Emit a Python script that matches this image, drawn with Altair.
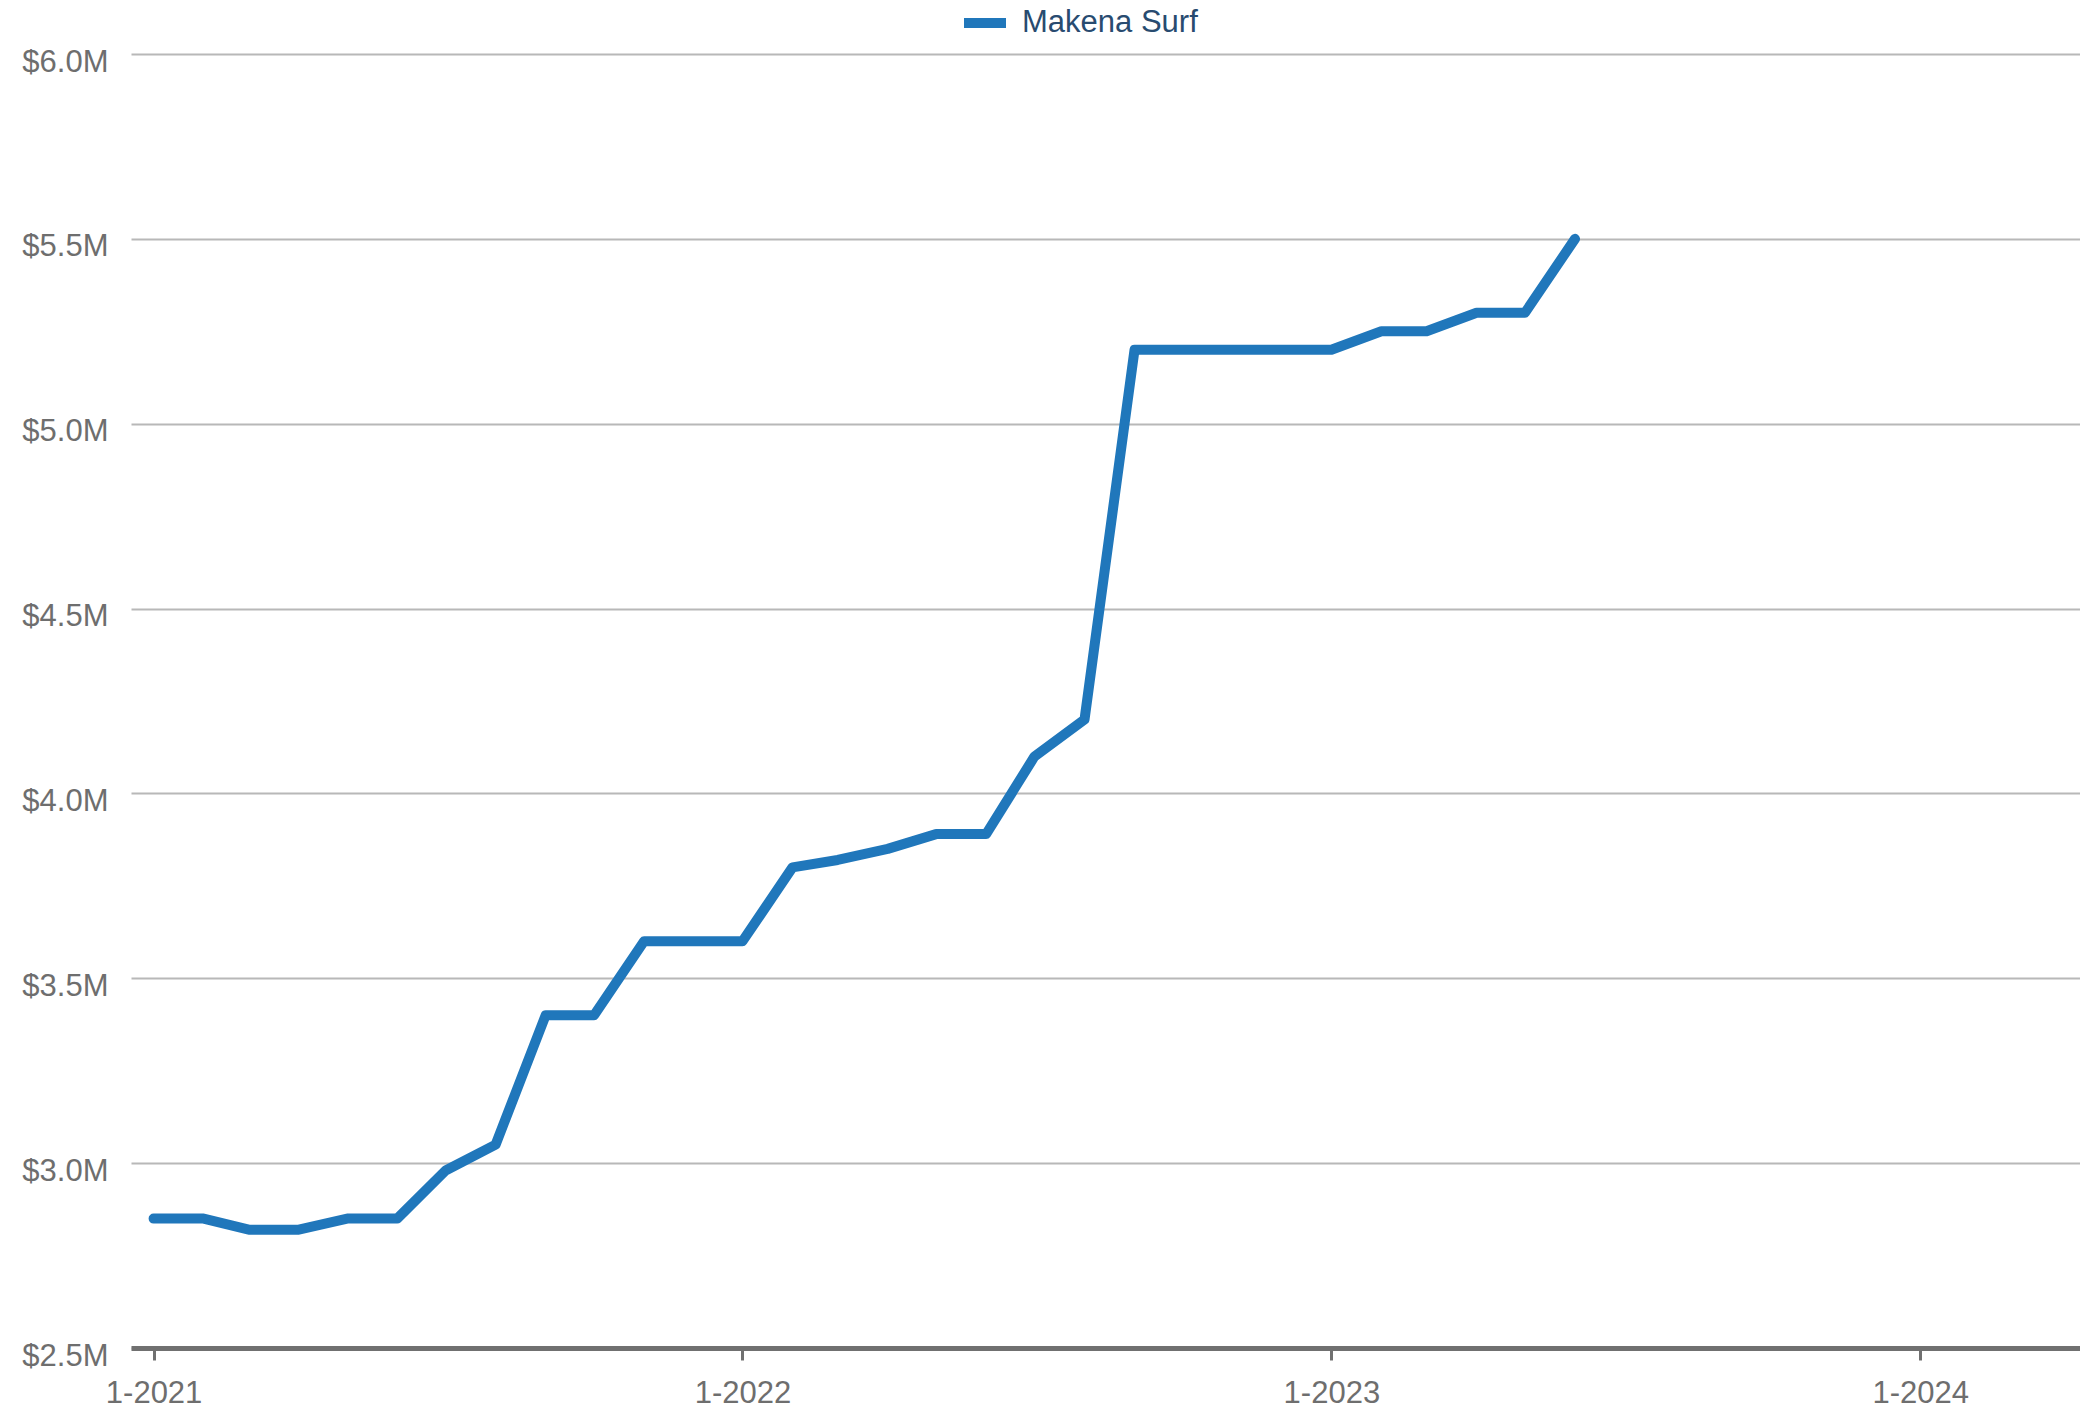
import altair as alt
import pandas as pd

months = [
    "2021-01-01", "2021-02-01", "2021-03-01", "2021-04-01", "2021-05-01", "2021-06-01",
    "2021-07-01", "2021-08-01", "2021-09-01", "2021-10-01", "2021-11-01", "2021-12-01",
    "2022-01-01", "2022-02-01", "2022-03-01", "2022-04-01", "2022-05-01", "2022-06-01",
    "2022-07-01", "2022-08-01", "2022-09-01", "2022-10-01", "2022-11-01", "2022-12-01",
    "2023-01-01", "2023-02-01", "2023-03-01", "2023-04-01", "2023-05-01", "2023-06-01",
]
values = [
    2.85, 2.85, 2.82, 2.82, 2.85, 2.85,
    2.98, 3.05, 3.40, 3.40, 3.60, 3.60,
    3.60, 3.80, 3.82, 3.85, 3.89, 3.89,
    4.10, 4.20, 5.20, 5.20, 5.20, 5.20,
    5.20, 5.25, 5.25, 5.30, 5.30, 5.50,
]
series_name = "Makena Surf"
x_ticks = ["2021-01-01", "2022-01-01", "2023-01-01", "2024-01-01"]
y_ticks = [2.5e6, 3.0e6, 3.5e6, 4.0e6, 4.5e6, 5.0e6, 5.5e6, 6.0e6]

df = pd.DataFrame({
    "date": months,
    "price": [v * 1e6 for v in values],
    "series": [series_name] * len(months),
})

FONT = "Liberation Sans"
GRAY = "#6e6e6e"

chart = alt.Chart(df).mark_line(
    strokeWidth=10, strokeCap="round", strokeJoin="round", clip=True
).encode(
    x=alt.X(
        "date:T",
        scale=alt.Scale(domain=[
            alt.DateTime(year=2020, month=12, date=18, utc=True),
            alt.DateTime(year=2024, month=4, date=9, utc=True),
        ]),
        axis=alt.Axis(
            values=x_ticks,
            labelExpr="utcFormat(datum.value, '%-m-%Y')",
            title=None,
            grid=False,
            domainColor="#707070",
            domainWidth=5,
            tickColor="#707070",
            tickWidth=3,
            tickSize=12,
            labelPadding=18,
            labelFont=FONT,
            labelFontSize=31,
            labelColor=GRAY,
        ),
    ),
    y=alt.Y(
        "price:Q",
        scale=alt.Scale(domain=[2.5e6, 6.0e6], nice=False, zero=False),
        axis=alt.Axis(
            values=y_ticks,
            labelExpr="'$' + format(datum.value / 1000000, '.1f') + 'M'",
            title=None,
            domain=False,
            ticks=False,
            tickSize=0,
            labelPadding=23,
            labelOffset=8,
            gridColor="#b8b8b8",
            gridWidth=2,
            labelFont=FONT,
            labelFontSize=31,
            labelColor=GRAY,
        ),
    ),
    color=alt.Color(
        "series:N",
        scale=alt.Scale(range=["#2077bb"]),
        legend=alt.Legend(
            title=None,
            orient="none",
            legendX=828,
            legendY=-57,
            symbolType="stroke",
            symbolSize=1764,
            symbolStrokeWidth=10,
            labelOffset=11,
            labelLimit=600,
            labelFont=FONT,
            labelFontSize=31,
            labelColor="#284b70",
        ),
    ),
).properties(
    width=1949,
    height=1294,
    autosize=alt.AutoSizeParams(type="none"),
    padding={"left": 123, "top": 46, "right": 0, "bottom": 60},
).configure_view(stroke=None)

chart.save("out.html", embed_options={"renderer": "svg", "actions": False})
